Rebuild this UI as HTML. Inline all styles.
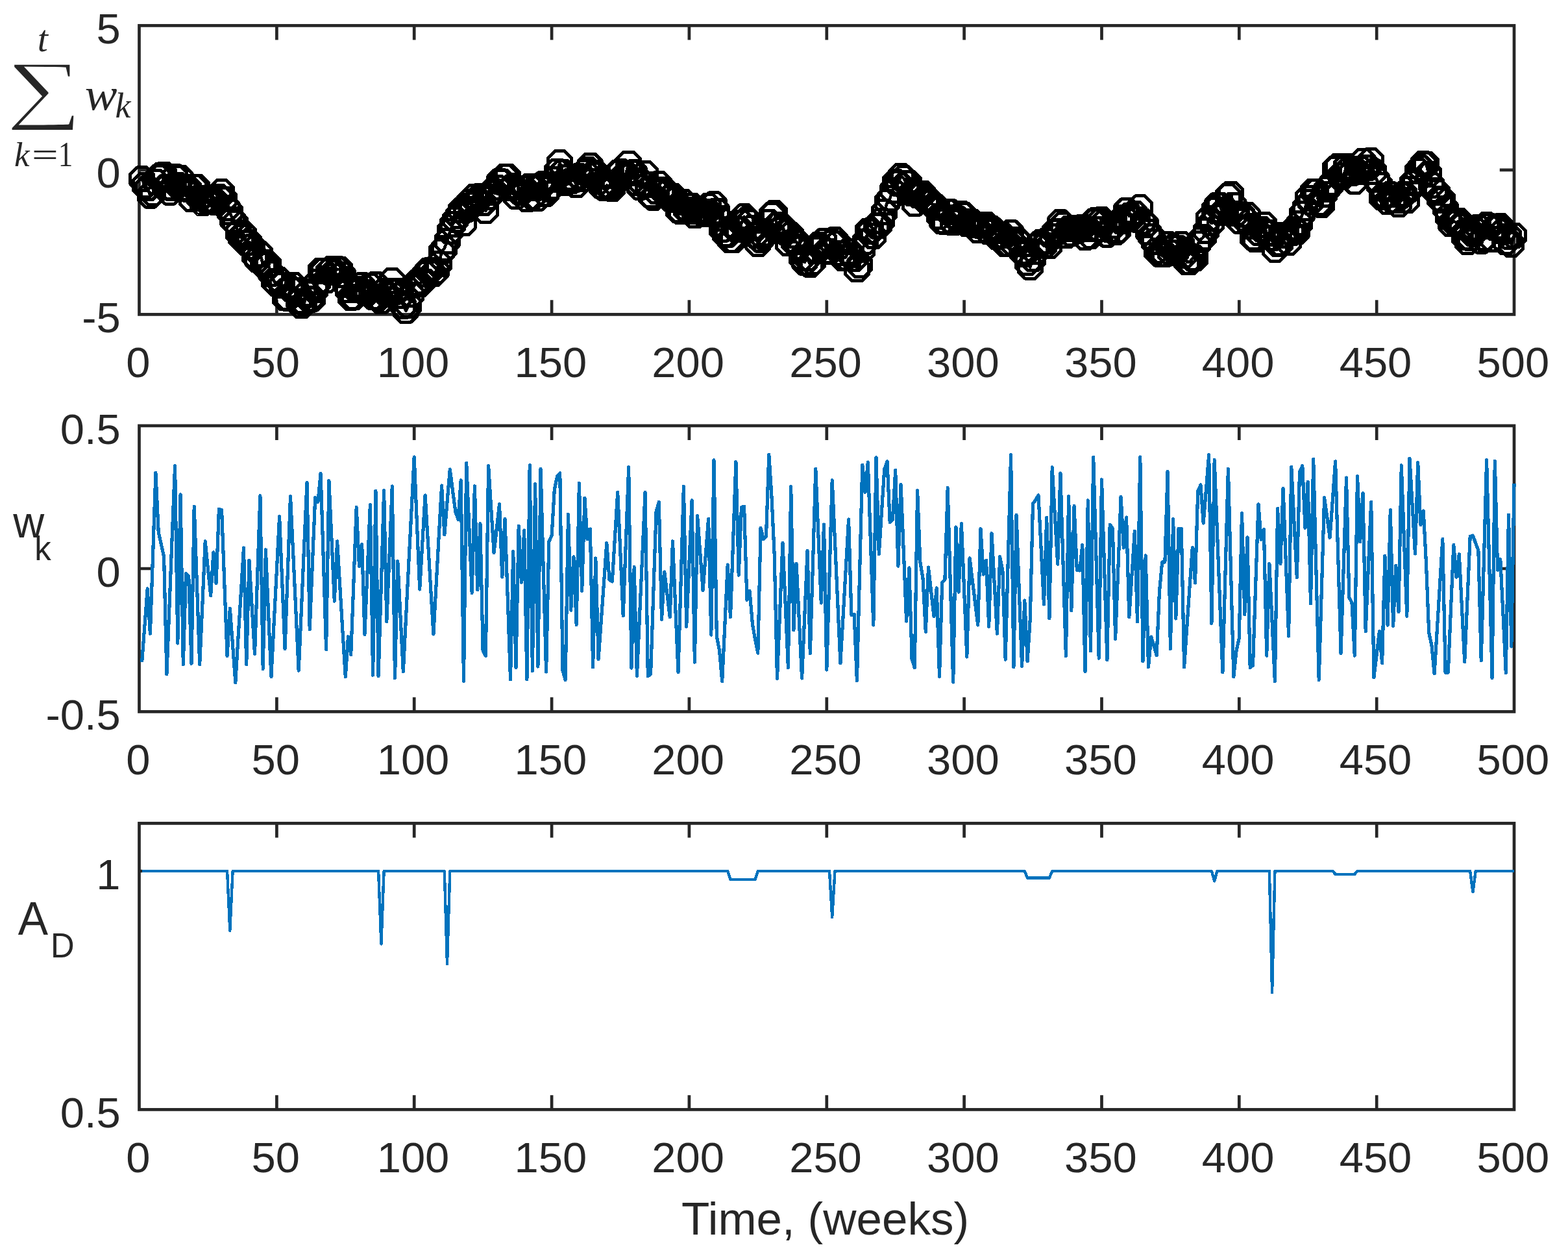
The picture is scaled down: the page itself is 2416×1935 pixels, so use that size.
<!DOCTYPE html>
<html lang="en">
<head>
<meta charset="utf-8">
<title>Figure</title>
<style>
html,body{margin:0;padding:0;background:#fff}
body{width:2416px;height:1935px;overflow:hidden}
svg{display:block}
.t{font-family:"Liberation Sans",sans-serif;font-size:65px;fill:#262626}
.l{font-family:"Liberation Sans",sans-serif;font-size:71px;fill:#262626}
.m{font-family:"Liberation Serif",serif;fill:#262626}
.ax{fill:none;stroke:#262626;stroke-width:4.7;stroke-linecap:butt;stroke-linejoin:miter}
.b{fill:none;stroke:#0072bd;stroke-width:5.2;stroke-linejoin:round;stroke-linecap:butt;shape-rendering:crispEdges}
.k{fill:none;stroke:#000;stroke-width:5;stroke-linejoin:round;shape-rendering:crispEdges}
</style>
</head>
<body>
<svg width="2416" height="1935" viewBox="0 0 2416 1935">
<rect x="0" y="0" width="2416" height="1935" fill="#fff"/>
<g>
<path class="ax" d="M426.4 484.4v-22.2M426.4 39.4v22.2M638.2 484.4v-22.2M638.2 39.4v22.2M850.1 484.4v-22.2M850.1 39.4v22.2M1061.9 484.4v-22.2M1061.9 39.4v22.2M1273.8 484.4v-22.2M1273.8 39.4v22.2M1485.6 484.4v-22.2M1485.6 39.4v22.2M1697.5 484.4v-22.2M1697.5 39.4v22.2M1909.3 484.4v-22.2M1909.3 39.4v22.2M2121.2 484.4v-22.2M2121.2 39.4v22.2M214.5 261.9h22.2M2333 261.9h-22.2"/>
<rect class="ax" x="214.5" y="39.4" width="2118.5" height="445"/>
<polyline fill="none" stroke="#000" stroke-width="4.7" stroke-linejoin="round" shape-rendering="crispEdges" points="218.7,275.9 223,285.8 227.2,289.9 231.4,301.1 235.7,297.1 239.9,280.6 244.2,273.3 248.4,270.3 252.6,269.2 256.9,288.1 261.1,296.1 265.3,289.7 269.6,272.5 273.8,285 278.1,274.3 282.3,289.4 286.5,290.3 290.8,291.7 295,306.7 299.2,288.6 303.5,288.7 307.7,305.4 312,312.6 316.2,307.7 320.4,307.1 324.7,310.7 328.9,308.7 333.1,311.5 337.4,303.5 341.6,295.7 345.8,307 350.1,320.6 354.3,326.8 358.6,338.7 362.8,343.8 367,358.2 371.3,365.7 375.5,360.7 379.7,374 384,373.1 388.2,380.2 392.5,394.5 396.7,399.9 400.9,391.5 405.2,407.1 409.4,404.1 413.6,408.2 417.9,421.2 422.1,433.2 426.4,436.6 430.6,431.7 434.8,439.9 439.1,458.4 443.3,459.1 447.5,444.8 451.8,439.5 456,447.2 460.2,464 464.5,470.9 468.7,466.7 473,452.7 477.2,461.5 481.4,460.1 485.7,446.9 489.9,434.3 494.1,417.3 498.4,417.6 502.6,431.7 506.9,418.5 511.1,414.7 515.3,419.5 519.6,414.8 523.8,415.2 528,423.2 532.3,438.1 536.5,446.9 540.7,458.4 545,457.8 549.2,446.9 553.5,445.1 557.7,439.9 561.9,450.2 566.2,450.5 570.4,440.5 574.6,457.2 578.9,438.3 583.1,458.3 587.4,463.8 591.6,448.6 595.8,453.8 600.1,448.5 604.3,432.6 608.5,449.5 612.8,448.1 617,455.4 621.3,471.2 625.5,478.7 629.7,470.6 634,454 638.2,439.6 642.4,435.4 646.7,437.7 650.9,433.2 655.1,422.2 659.4,417.3 663.6,416 667.9,421.9 672.1,417.9 676.3,406.7 680.6,387.8 684.8,382.4 689,371.9 693.3,356.4 697.5,345.9 701.8,338.7 706,332.7 710.2,324 714.5,343.8 718.7,322.5 722.9,311.3 727.2,315.7 731.4,303.4 735.7,308 739.9,302.2 744.1,313 748.4,324.7 752.6,303.5 756.8,296.8 761.1,294.8 765.3,289 769.5,279.4 773.8,280.5 778,272.5 782.3,272.6 786.5,289.8 790.7,286.9 795,302.3 799.2,295 803.4,296.6 807.7,290.1 811.9,306.9 816.2,287.4 820.4,303.3 824.6,290 828.9,305.1 833.1,286.5 837.3,283.6 841.6,298.2 845.8,291.5 850.1,287.6 854.3,276.9 858.5,264.1 862.8,250.8 867,265.7 871.2,282 875.5,273.1 879.7,279 883.9,276.6 888.2,284.9 892.4,271.9 896.7,275.8 900.9,265.2 905.1,261 909.4,255.3 913.6,269.4 917.8,266.6 922.1,279.6 926.3,286.5 930.6,289.2 934.8,285.7 939,287.9 943.3,290.4 947.5,281.8 951.7,266.4 956,264.3 960.2,271.8 964.4,267.7 968.7,252 972.9,266.7 977.2,265.7 981.4,281.7 985.6,288.1 989.9,282.4 994.1,267.2 998.3,284.1 1002.6,300.7 1006.8,304.2 1011.1,294.7 1015.3,283.7 1019.5,292.1 1023.8,293 1028,297.5 1032.2,305.6 1036.5,302.2 1040.7,307.7 1045,323.4 1049.2,325.6 1053.4,311.8 1057.7,323.5 1061.9,325.4 1066.1,317.4 1070.4,331.9 1074.6,325.2 1078.8,324.3 1083.1,329.1 1087.3,326.2 1091.6,317.7 1095.8,329.9 1100,314.8 1104.3,325.1 1108.5,336.8 1112.7,353.4 1117,361 1121.2,361.2 1125.5,369.7 1129.7,369.8 1133.9,352.9 1138.2,353.7 1142.4,343.9 1146.6,333.9 1150.9,338.9 1155.1,342.4 1159.4,351.1 1163.6,362.3 1167.8,375.5 1172.1,369.2 1176.3,364.7 1180.5,359.8 1184.8,342.1 1189,331 1193.2,328.6 1197.5,346.6 1201.7,354 1206,350.7 1210.2,357.9 1214.4,374.7 1218.7,362.2 1222.9,372.6 1227.1,372.7 1231.4,380.5 1235.6,397.3 1239.9,404.1 1244.1,397.8 1248.3,407.5 1252.6,403.1 1256.8,384.9 1261,377.2 1265.3,380.4 1269.5,371.4 1273.8,387 1278,387.9 1282.2,374 1286.5,369.5 1290.7,375 1294.9,390 1299.2,397.6 1303.4,396.1 1307.6,387.1 1311.9,393 1316.1,398.8 1320.4,415 1324.6,408.4 1328.8,384.9 1333.1,372.9 1337.3,356.2 1341.5,355.6 1345.8,363.9 1350,348.1 1354.3,347.4 1358.5,340.3 1362.7,326.7 1367,311.5 1371.2,305.9 1375.4,293.5 1379.7,280.4 1383.9,282.2 1388.1,271.3 1392.4,274.7 1396.6,282.7 1400.9,282.5 1405.1,297.5 1409.3,313.8 1413.6,300.5 1417.8,298.2 1422,298.5 1426.3,308.5 1430.5,308.4 1434.8,312.2 1439,318 1443.2,319.4 1447.5,333.4 1451.7,340.8 1455.9,341.7 1460.2,326.1 1464.4,326.9 1468.7,342.8 1472.9,335.3 1477.1,337.9 1481.4,329.8 1485.6,331.9 1489.8,344.6 1494.1,341.8 1498.3,342.5 1502.5,346.8 1506.8,354.5 1511,347.7 1515.3,348 1519.5,346.1 1523.7,357 1528,352.3 1532.2,355.4 1536.4,364.9 1540.7,362.4 1544.9,362.1 1549.2,375.6 1553.4,375.1 1557.6,358.6 1561.9,375.7 1566.1,369 1570.3,372.8 1574.6,387.7 1578.8,391.5 1583.1,404.8 1587.3,411.5 1591.5,398.8 1595.8,388 1600,376.4 1604.2,373.4 1608.5,379 1612.7,371.1 1616.9,378.9 1621.2,364.2 1625.4,357 1629.7,356.9 1633.9,342.8 1638.1,346.2 1642.4,362.9 1646.6,352.5 1650.8,359.9 1655.1,351 1659.3,352.1 1663.6,353.2 1667.8,350.4 1672,366 1676.3,353 1680.5,363.5 1684.7,341.6 1689,339.4 1693.2,353 1697.5,338.7 1701.7,342.8 1705.9,361.1 1710.2,353.8 1714.4,347.2 1718.6,357.8 1722.9,354.6 1727.1,340.8 1731.3,335 1735.6,324.4 1739.8,332.7 1744.1,334.2 1748.3,329.1 1752.5,338.1 1756.8,319.9 1761,341.3 1765.2,346.2 1769.5,357.6 1773.7,364.2 1778,372.3 1782.2,386.7 1786.4,391.2 1790.7,391.7 1794.9,391.3 1799.1,376.8 1803.4,389.3 1807.6,381.5 1811.8,389.1 1816.1,382.8 1820.3,376.4 1824.6,393.2 1828.8,403.8 1833,403.8 1837.3,398.1 1841.5,397.8 1845.7,375.8 1850,369.3 1854.2,365.2 1858.5,355.9 1862.7,336.8 1866.9,344 1871.2,323.8 1875.4,316.6 1879.6,316.7 1883.9,327.8 1888.1,323 1892.4,302.4 1896.6,299 1900.8,316.1 1905.1,329 1909.3,340.1 1913.5,330.6 1917.8,337 1922,331.3 1926.2,348.8 1930.5,366 1934.7,368.9 1939,358.2 1943.2,353 1947.4,346.1 1951.7,359.6 1955.9,358.7 1960.1,366.9 1964.4,384.3 1968.6,375.4 1972.9,375 1977.1,362.9 1981.3,362.3 1985.6,373.3 1989.8,359 1994,353.3 1998.3,356.9 2002.5,344 2006.8,329.4 2011,320.9 2015.2,305.3 2019.5,311.4 2023.7,295 2027.9,295.1 2032.2,312.4 2036.4,315.6 2040.6,299.3 2044.9,291.5 2049.1,286.8 2053.4,281.1 2057.6,260.3 2061.8,256.8 2066.1,270.4 2070.3,270.4 2074.5,256.7 2078.8,261 2083,266.1 2087.3,279.4 2091.5,264.8 2095.7,260.5 2100,248.5 2104.2,258.4 2108.4,258.2 2112.7,247.8 2116.9,264.9 2121.2,276.8 2125.4,285.1 2129.6,304 2133.9,301.9 2138.1,310.6 2142.3,299.9 2146.6,308.8 2150.8,308.3 2155,315 2159.3,301.1 2163.5,299 2167.8,308.7 2172,291.6 2176.2,282 2180.5,279.8 2184.7,263.4 2188.9,258.9 2193.2,252.3 2197.4,253 2201.7,268.1 2205.9,285.1 2210.1,293 2214.4,296.8 2218.6,306 2222.8,308.2 2227.1,321.1 2231.3,334.1 2235.5,344.8 2239.8,341.2 2244,342.6 2248.3,340.4 2252.5,348.9 2256.7,365.7 2261,372.8 2265.2,366.5 2269.4,360 2273.7,354.7 2277.9,350.5 2282.2,371.1 2286.4,366.7 2290.6,346.7 2294.9,348.9 2299.1,368.1 2303.3,350.9 2307.6,350.7 2311.8,348.9 2316.1,356.3 2320.3,372.6 2324.5,364.2 2328.8,376.3 2333,363"/>
<path class="k" d="M211.3 257.9h14.9l10.5 10.5v14.9l-10.5 10.5h-14.9l-10.5 -10.5v-14.9zM215.5 267.8h14.9l10.5 10.5v14.9l-10.5 10.5h-14.9l-10.5 -10.5v-14.9zM219.8 271.9h14.9l10.5 10.5v14.9l-10.5 10.5h-14.9l-10.5 -10.5v-14.9zM224 283.1h14.9l10.5 10.5v14.9l-10.5 10.5h-14.9l-10.5 -10.5v-14.9zM228.2 279.1h14.9l10.5 10.5v14.9l-10.5 10.5h-14.9l-10.5 -10.5v-14.9zM232.5 262.6h14.9l10.5 10.5v14.9l-10.5 10.5h-14.9l-10.5 -10.5v-14.9zM236.7 255.3h14.9l10.5 10.5v14.9l-10.5 10.5h-14.9l-10.5 -10.5v-14.9zM240.9 252.3h14.9l10.5 10.5v14.9l-10.5 10.5h-14.9l-10.5 -10.5v-14.9zM245.2 251.2h14.9l10.5 10.5v14.9l-10.5 10.5h-14.9l-10.5 -10.5v-14.9zM249.4 270.1h14.9l10.5 10.5v14.9l-10.5 10.5h-14.9l-10.5 -10.5v-14.9zM253.7 278.1h14.9l10.5 10.5v14.9l-10.5 10.5h-14.9l-10.5 -10.5v-14.9zM257.9 271.7h14.9l10.5 10.5v14.9l-10.5 10.5h-14.9l-10.5 -10.5v-14.9zM262.1 254.5h14.9l10.5 10.5v14.9l-10.5 10.5h-14.9l-10.5 -10.5v-14.9zM266.4 267h14.9l10.5 10.5v14.9l-10.5 10.5h-14.9l-10.5 -10.5v-14.9zM270.6 256.3h14.9l10.5 10.5v14.9l-10.5 10.5h-14.9l-10.5 -10.5v-14.9zM274.8 271.4h14.9l10.5 10.5v14.9l-10.5 10.5h-14.9l-10.5 -10.5v-14.9zM279.1 272.3h14.9l10.5 10.5v14.9l-10.5 10.5h-14.9l-10.5 -10.5v-14.9zM283.3 273.7h14.9l10.5 10.5v14.9l-10.5 10.5h-14.9l-10.5 -10.5v-14.9zM287.5 288.7h14.9l10.5 10.5v14.9l-10.5 10.5h-14.9l-10.5 -10.5v-14.9zM291.8 270.6h14.9l10.5 10.5v14.9l-10.5 10.5h-14.9l-10.5 -10.5v-14.9zM296 270.7h14.9l10.5 10.5v14.9l-10.5 10.5h-14.9l-10.5 -10.5v-14.9zM300.3 287.4h14.9l10.5 10.5v14.9l-10.5 10.5h-14.9l-10.5 -10.5v-14.9zM304.5 294.6h14.9l10.5 10.5v14.9l-10.5 10.5h-14.9l-10.5 -10.5v-14.9zM308.7 289.7h14.9l10.5 10.5v14.9l-10.5 10.5h-14.9l-10.5 -10.5v-14.9zM313 289.1h14.9l10.5 10.5v14.9l-10.5 10.5h-14.9l-10.5 -10.5v-14.9zM317.2 292.7h14.9l10.5 10.5v14.9l-10.5 10.5h-14.9l-10.5 -10.5v-14.9zM321.4 290.7h14.9l10.5 10.5v14.9l-10.5 10.5h-14.9l-10.5 -10.5v-14.9zM325.7 293.5h14.9l10.5 10.5v14.9l-10.5 10.5h-14.9l-10.5 -10.5v-14.9zM329.9 285.5h14.9l10.5 10.5v14.9l-10.5 10.5h-14.9l-10.5 -10.5v-14.9zM334.2 277.7h14.9l10.5 10.5v14.9l-10.5 10.5h-14.9l-10.5 -10.5v-14.9zM338.4 289h14.9l10.5 10.5v14.9l-10.5 10.5h-14.9l-10.5 -10.5v-14.9zM342.6 302.6h14.9l10.5 10.5v14.9l-10.5 10.5h-14.9l-10.5 -10.5v-14.9zM346.9 308.8h14.9l10.5 10.5v14.9l-10.5 10.5h-14.9l-10.5 -10.5v-14.9zM351.1 320.7h14.9l10.5 10.5v14.9l-10.5 10.5h-14.9l-10.5 -10.5v-14.9zM355.3 325.8h14.9l10.5 10.5v14.9l-10.5 10.5h-14.9l-10.5 -10.5v-14.9zM359.6 340.2h14.9l10.5 10.5v14.9l-10.5 10.5h-14.9l-10.5 -10.5v-14.9zM363.8 347.7h14.9l10.5 10.5v14.9l-10.5 10.5h-14.9l-10.5 -10.5v-14.9zM368.1 342.7h14.9l10.5 10.5v14.9l-10.5 10.5h-14.9l-10.5 -10.5v-14.9zM372.3 356h14.9l10.5 10.5v14.9l-10.5 10.5h-14.9l-10.5 -10.5v-14.9zM376.5 355.1h14.9l10.5 10.5v14.9l-10.5 10.5h-14.9l-10.5 -10.5v-14.9zM380.8 362.2h14.9l10.5 10.5v14.9l-10.5 10.5h-14.9l-10.5 -10.5v-14.9zM385 376.5h14.9l10.5 10.5v14.9l-10.5 10.5h-14.9l-10.5 -10.5v-14.9zM389.2 381.9h14.9l10.5 10.5v14.9l-10.5 10.5h-14.9l-10.5 -10.5v-14.9zM393.5 373.5h14.9l10.5 10.5v14.9l-10.5 10.5h-14.9l-10.5 -10.5v-14.9zM397.7 389.1h14.9l10.5 10.5v14.9l-10.5 10.5h-14.9l-10.5 -10.5v-14.9zM401.9 386.1h14.9l10.5 10.5v14.9l-10.5 10.5h-14.9l-10.5 -10.5v-14.9zM406.2 390.2h14.9l10.5 10.5v14.9l-10.5 10.5h-14.9l-10.5 -10.5v-14.9zM410.4 403.2h14.9l10.5 10.5v14.9l-10.5 10.5h-14.9l-10.5 -10.5v-14.9zM414.7 415.2h14.9l10.5 10.5v14.9l-10.5 10.5h-14.9l-10.5 -10.5v-14.9zM418.9 418.6h14.9l10.5 10.5v14.9l-10.5 10.5h-14.9l-10.5 -10.5v-14.9zM423.1 413.7h14.9l10.5 10.5v14.9l-10.5 10.5h-14.9l-10.5 -10.5v-14.9zM427.4 421.9h14.9l10.5 10.5v14.9l-10.5 10.5h-14.9l-10.5 -10.5v-14.9zM431.6 440.4h14.9l10.5 10.5v14.9l-10.5 10.5h-14.9l-10.5 -10.5v-14.9zM435.8 441.1h14.9l10.5 10.5v14.9l-10.5 10.5h-14.9l-10.5 -10.5v-14.9zM440.1 426.8h14.9l10.5 10.5v14.9l-10.5 10.5h-14.9l-10.5 -10.5v-14.9zM444.3 421.5h14.9l10.5 10.5v14.9l-10.5 10.5h-14.9l-10.5 -10.5v-14.9zM448.6 429.2h14.9l10.5 10.5v14.9l-10.5 10.5h-14.9l-10.5 -10.5v-14.9zM452.8 446h14.9l10.5 10.5v14.9l-10.5 10.5h-14.9l-10.5 -10.5v-14.9zM457 452.9h14.9l10.5 10.5v14.9l-10.5 10.5h-14.9l-10.5 -10.5v-14.9zM461.3 448.7h14.9l10.5 10.5v14.9l-10.5 10.5h-14.9l-10.5 -10.5v-14.9zM465.5 434.7h14.9l10.5 10.5v14.9l-10.5 10.5h-14.9l-10.5 -10.5v-14.9zM469.7 443.5h14.9l10.5 10.5v14.9l-10.5 10.5h-14.9l-10.5 -10.5v-14.9zM474 442.1h14.9l10.5 10.5v14.9l-10.5 10.5h-14.9l-10.5 -10.5v-14.9zM478.2 428.9h14.9l10.5 10.5v14.9l-10.5 10.5h-14.9l-10.5 -10.5v-14.9zM482.4 416.3h14.9l10.5 10.5v14.9l-10.5 10.5h-14.9l-10.5 -10.5v-14.9zM486.7 399.3h14.9l10.5 10.5v14.9l-10.5 10.5h-14.9l-10.5 -10.5v-14.9zM490.9 399.6h14.9l10.5 10.5v14.9l-10.5 10.5h-14.9l-10.5 -10.5v-14.9zM495.2 413.7h14.9l10.5 10.5v14.9l-10.5 10.5h-14.9l-10.5 -10.5v-14.9zM499.4 400.5h14.9l10.5 10.5v14.9l-10.5 10.5h-14.9l-10.5 -10.5v-14.9zM503.6 396.7h14.9l10.5 10.5v14.9l-10.5 10.5h-14.9l-10.5 -10.5v-14.9zM507.9 401.5h14.9l10.5 10.5v14.9l-10.5 10.5h-14.9l-10.5 -10.5v-14.9zM512.1 396.8h14.9l10.5 10.5v14.9l-10.5 10.5h-14.9l-10.5 -10.5v-14.9zM516.3 397.2h14.9l10.5 10.5v14.9l-10.5 10.5h-14.9l-10.5 -10.5v-14.9zM520.6 405.2h14.9l10.5 10.5v14.9l-10.5 10.5h-14.9l-10.5 -10.5v-14.9zM524.8 420.1h14.9l10.5 10.5v14.9l-10.5 10.5h-14.9l-10.5 -10.5v-14.9zM529.1 428.9h14.9l10.5 10.5v14.9l-10.5 10.5h-14.9l-10.5 -10.5v-14.9zM533.3 440.4h14.9l10.5 10.5v14.9l-10.5 10.5h-14.9l-10.5 -10.5v-14.9zM537.5 439.8h14.9l10.5 10.5v14.9l-10.5 10.5h-14.9l-10.5 -10.5v-14.9zM541.8 428.9h14.9l10.5 10.5v14.9l-10.5 10.5h-14.9l-10.5 -10.5v-14.9zM546 427.1h14.9l10.5 10.5v14.9l-10.5 10.5h-14.9l-10.5 -10.5v-14.9zM550.2 421.9h14.9l10.5 10.5v14.9l-10.5 10.5h-14.9l-10.5 -10.5v-14.9zM554.5 432.2h14.9l10.5 10.5v14.9l-10.5 10.5h-14.9l-10.5 -10.5v-14.9zM558.7 432.5h14.9l10.5 10.5v14.9l-10.5 10.5h-14.9l-10.5 -10.5v-14.9zM563 422.5h14.9l10.5 10.5v14.9l-10.5 10.5h-14.9l-10.5 -10.5v-14.9zM567.2 439.2h14.9l10.5 10.5v14.9l-10.5 10.5h-14.9l-10.5 -10.5v-14.9zM571.4 420.3h14.9l10.5 10.5v14.9l-10.5 10.5h-14.9l-10.5 -10.5v-14.9zM575.7 440.3h14.9l10.5 10.5v14.9l-10.5 10.5h-14.9l-10.5 -10.5v-14.9zM579.9 445.8h14.9l10.5 10.5v14.9l-10.5 10.5h-14.9l-10.5 -10.5v-14.9zM584.1 430.6h14.9l10.5 10.5v14.9l-10.5 10.5h-14.9l-10.5 -10.5v-14.9zM588.4 435.8h14.9l10.5 10.5v14.9l-10.5 10.5h-14.9l-10.5 -10.5v-14.9zM592.6 430.5h14.9l10.5 10.5v14.9l-10.5 10.5h-14.9l-10.5 -10.5v-14.9zM596.8 414.6h14.9l10.5 10.5v14.9l-10.5 10.5h-14.9l-10.5 -10.5v-14.9zM601.1 431.5h14.9l10.5 10.5v14.9l-10.5 10.5h-14.9l-10.5 -10.5v-14.9zM605.3 430.1h14.9l10.5 10.5v14.9l-10.5 10.5h-14.9l-10.5 -10.5v-14.9zM609.6 437.4h14.9l10.5 10.5v14.9l-10.5 10.5h-14.9l-10.5 -10.5v-14.9zM613.8 453.2h14.9l10.5 10.5v14.9l-10.5 10.5h-14.9l-10.5 -10.5v-14.9zM618 460.7h14.9l10.5 10.5v14.9l-10.5 10.5h-14.9l-10.5 -10.5v-14.9zM622.3 452.6h14.9l10.5 10.5v14.9l-10.5 10.5h-14.9l-10.5 -10.5v-14.9zM626.5 436h14.9l10.5 10.5v14.9l-10.5 10.5h-14.9l-10.5 -10.5v-14.9zM630.7 421.6h14.9l10.5 10.5v14.9l-10.5 10.5h-14.9l-10.5 -10.5v-14.9zM635 417.4h14.9l10.5 10.5v14.9l-10.5 10.5h-14.9l-10.5 -10.5v-14.9zM639.2 419.7h14.9l10.5 10.5v14.9l-10.5 10.5h-14.9l-10.5 -10.5v-14.9zM643.5 415.2h14.9l10.5 10.5v14.9l-10.5 10.5h-14.9l-10.5 -10.5v-14.9zM647.7 404.2h14.9l10.5 10.5v14.9l-10.5 10.5h-14.9l-10.5 -10.5v-14.9zM651.9 399.3h14.9l10.5 10.5v14.9l-10.5 10.5h-14.9l-10.5 -10.5v-14.9zM656.2 398h14.9l10.5 10.5v14.9l-10.5 10.5h-14.9l-10.5 -10.5v-14.9zM660.4 403.9h14.9l10.5 10.5v14.9l-10.5 10.5h-14.9l-10.5 -10.5v-14.9zM664.6 399.9h14.9l10.5 10.5v14.9l-10.5 10.5h-14.9l-10.5 -10.5v-14.9zM668.9 388.7h14.9l10.5 10.5v14.9l-10.5 10.5h-14.9l-10.5 -10.5v-14.9zM673.1 369.8h14.9l10.5 10.5v14.9l-10.5 10.5h-14.9l-10.5 -10.5v-14.9zM677.4 364.4h14.9l10.5 10.5v14.9l-10.5 10.5h-14.9l-10.5 -10.5v-14.9zM681.6 353.9h14.9l10.5 10.5v14.9l-10.5 10.5h-14.9l-10.5 -10.5v-14.9zM685.8 338.4h14.9l10.5 10.5v14.9l-10.5 10.5h-14.9l-10.5 -10.5v-14.9zM690.1 327.9h14.9l10.5 10.5v14.9l-10.5 10.5h-14.9l-10.5 -10.5v-14.9zM694.3 320.7h14.9l10.5 10.5v14.9l-10.5 10.5h-14.9l-10.5 -10.5v-14.9zM698.5 314.7h14.9l10.5 10.5v14.9l-10.5 10.5h-14.9l-10.5 -10.5v-14.9zM702.8 306h14.9l10.5 10.5v14.9l-10.5 10.5h-14.9l-10.5 -10.5v-14.9zM707 325.8h14.9l10.5 10.5v14.9l-10.5 10.5h-14.9l-10.5 -10.5v-14.9zM711.2 304.5h14.9l10.5 10.5v14.9l-10.5 10.5h-14.9l-10.5 -10.5v-14.9zM715.5 293.3h14.9l10.5 10.5v14.9l-10.5 10.5h-14.9l-10.5 -10.5v-14.9zM719.7 297.7h14.9l10.5 10.5v14.9l-10.5 10.5h-14.9l-10.5 -10.5v-14.9zM724 285.4h14.9l10.5 10.5v14.9l-10.5 10.5h-14.9l-10.5 -10.5v-14.9zM728.2 290h14.9l10.5 10.5v14.9l-10.5 10.5h-14.9l-10.5 -10.5v-14.9zM732.4 284.2h14.9l10.5 10.5v14.9l-10.5 10.5h-14.9l-10.5 -10.5v-14.9zM736.7 295h14.9l10.5 10.5v14.9l-10.5 10.5h-14.9l-10.5 -10.5v-14.9zM740.9 306.7h14.9l10.5 10.5v14.9l-10.5 10.5h-14.9l-10.5 -10.5v-14.9zM745.1 285.5h14.9l10.5 10.5v14.9l-10.5 10.5h-14.9l-10.5 -10.5v-14.9zM749.4 278.8h14.9l10.5 10.5v14.9l-10.5 10.5h-14.9l-10.5 -10.5v-14.9zM753.6 276.8h14.9l10.5 10.5v14.9l-10.5 10.5h-14.9l-10.5 -10.5v-14.9zM757.9 271h14.9l10.5 10.5v14.9l-10.5 10.5h-14.9l-10.5 -10.5v-14.9zM762.1 261.4h14.9l10.5 10.5v14.9l-10.5 10.5h-14.9l-10.5 -10.5v-14.9zM766.3 262.5h14.9l10.5 10.5v14.9l-10.5 10.5h-14.9l-10.5 -10.5v-14.9zM770.6 254.5h14.9l10.5 10.5v14.9l-10.5 10.5h-14.9l-10.5 -10.5v-14.9zM774.8 254.6h14.9l10.5 10.5v14.9l-10.5 10.5h-14.9l-10.5 -10.5v-14.9zM779 271.8h14.9l10.5 10.5v14.9l-10.5 10.5h-14.9l-10.5 -10.5v-14.9zM783.3 268.9h14.9l10.5 10.5v14.9l-10.5 10.5h-14.9l-10.5 -10.5v-14.9zM787.5 284.3h14.9l10.5 10.5v14.9l-10.5 10.5h-14.9l-10.5 -10.5v-14.9zM791.8 277h14.9l10.5 10.5v14.9l-10.5 10.5h-14.9l-10.5 -10.5v-14.9zM796 278.6h14.9l10.5 10.5v14.9l-10.5 10.5h-14.9l-10.5 -10.5v-14.9zM800.2 272.1h14.9l10.5 10.5v14.9l-10.5 10.5h-14.9l-10.5 -10.5v-14.9zM804.5 288.9h14.9l10.5 10.5v14.9l-10.5 10.5h-14.9l-10.5 -10.5v-14.9zM808.7 269.4h14.9l10.5 10.5v14.9l-10.5 10.5h-14.9l-10.5 -10.5v-14.9zM812.9 285.3h14.9l10.5 10.5v14.9l-10.5 10.5h-14.9l-10.5 -10.5v-14.9zM817.2 272h14.9l10.5 10.5v14.9l-10.5 10.5h-14.9l-10.5 -10.5v-14.9zM821.4 287.1h14.9l10.5 10.5v14.9l-10.5 10.5h-14.9l-10.5 -10.5v-14.9zM825.6 268.5h14.9l10.5 10.5v14.9l-10.5 10.5h-14.9l-10.5 -10.5v-14.9zM829.9 265.6h14.9l10.5 10.5v14.9l-10.5 10.5h-14.9l-10.5 -10.5v-14.9zM834.1 280.2h14.9l10.5 10.5v14.9l-10.5 10.5h-14.9l-10.5 -10.5v-14.9zM838.4 273.5h14.9l10.5 10.5v14.9l-10.5 10.5h-14.9l-10.5 -10.5v-14.9zM842.6 269.6h14.9l10.5 10.5v14.9l-10.5 10.5h-14.9l-10.5 -10.5v-14.9zM846.8 258.9h14.9l10.5 10.5v14.9l-10.5 10.5h-14.9l-10.5 -10.5v-14.9zM851.1 246.1h14.9l10.5 10.5v14.9l-10.5 10.5h-14.9l-10.5 -10.5v-14.9zM855.3 232.8h14.9l10.5 10.5v14.9l-10.5 10.5h-14.9l-10.5 -10.5v-14.9zM859.5 247.7h14.9l10.5 10.5v14.9l-10.5 10.5h-14.9l-10.5 -10.5v-14.9zM863.8 264h14.9l10.5 10.5v14.9l-10.5 10.5h-14.9l-10.5 -10.5v-14.9zM868 255.1h14.9l10.5 10.5v14.9l-10.5 10.5h-14.9l-10.5 -10.5v-14.9zM872.3 261h14.9l10.5 10.5v14.9l-10.5 10.5h-14.9l-10.5 -10.5v-14.9zM876.5 258.6h14.9l10.5 10.5v14.9l-10.5 10.5h-14.9l-10.5 -10.5v-14.9zM880.7 266.9h14.9l10.5 10.5v14.9l-10.5 10.5h-14.9l-10.5 -10.5v-14.9zM885 253.9h14.9l10.5 10.5v14.9l-10.5 10.5h-14.9l-10.5 -10.5v-14.9zM889.2 257.8h14.9l10.5 10.5v14.9l-10.5 10.5h-14.9l-10.5 -10.5v-14.9zM893.4 247.2h14.9l10.5 10.5v14.9l-10.5 10.5h-14.9l-10.5 -10.5v-14.9zM897.7 243h14.9l10.5 10.5v14.9l-10.5 10.5h-14.9l-10.5 -10.5v-14.9zM901.9 237.3h14.9l10.5 10.5v14.9l-10.5 10.5h-14.9l-10.5 -10.5v-14.9zM906.1 251.4h14.9l10.5 10.5v14.9l-10.5 10.5h-14.9l-10.5 -10.5v-14.9zM910.4 248.6h14.9l10.5 10.5v14.9l-10.5 10.5h-14.9l-10.5 -10.5v-14.9zM914.6 261.6h14.9l10.5 10.5v14.9l-10.5 10.5h-14.9l-10.5 -10.5v-14.9zM918.9 268.5h14.9l10.5 10.5v14.9l-10.5 10.5h-14.9l-10.5 -10.5v-14.9zM923.1 271.2h14.9l10.5 10.5v14.9l-10.5 10.5h-14.9l-10.5 -10.5v-14.9zM927.3 267.7h14.9l10.5 10.5v14.9l-10.5 10.5h-14.9l-10.5 -10.5v-14.9zM931.6 269.9h14.9l10.5 10.5v14.9l-10.5 10.5h-14.9l-10.5 -10.5v-14.9zM935.8 272.4h14.9l10.5 10.5v14.9l-10.5 10.5h-14.9l-10.5 -10.5v-14.9zM940 263.8h14.9l10.5 10.5v14.9l-10.5 10.5h-14.9l-10.5 -10.5v-14.9zM944.3 248.4h14.9l10.5 10.5v14.9l-10.5 10.5h-14.9l-10.5 -10.5v-14.9zM948.5 246.3h14.9l10.5 10.5v14.9l-10.5 10.5h-14.9l-10.5 -10.5v-14.9zM952.8 253.8h14.9l10.5 10.5v14.9l-10.5 10.5h-14.9l-10.5 -10.5v-14.9zM957 249.7h14.9l10.5 10.5v14.9l-10.5 10.5h-14.9l-10.5 -10.5v-14.9zM961.2 234h14.9l10.5 10.5v14.9l-10.5 10.5h-14.9l-10.5 -10.5v-14.9zM965.5 248.7h14.9l10.5 10.5v14.9l-10.5 10.5h-14.9l-10.5 -10.5v-14.9zM969.7 247.7h14.9l10.5 10.5v14.9l-10.5 10.5h-14.9l-10.5 -10.5v-14.9zM973.9 263.7h14.9l10.5 10.5v14.9l-10.5 10.5h-14.9l-10.5 -10.5v-14.9zM978.2 270.1h14.9l10.5 10.5v14.9l-10.5 10.5h-14.9l-10.5 -10.5v-14.9zM982.4 264.4h14.9l10.5 10.5v14.9l-10.5 10.5h-14.9l-10.5 -10.5v-14.9zM986.7 249.2h14.9l10.5 10.5v14.9l-10.5 10.5h-14.9l-10.5 -10.5v-14.9zM990.9 266.1h14.9l10.5 10.5v14.9l-10.5 10.5h-14.9l-10.5 -10.5v-14.9zM995.1 282.7h14.9l10.5 10.5v14.9l-10.5 10.5h-14.9l-10.5 -10.5v-14.9zM999.4 286.2h14.9l10.5 10.5v14.9l-10.5 10.5h-14.9l-10.5 -10.5v-14.9zM1003.6 276.7h14.9l10.5 10.5v14.9l-10.5 10.5h-14.9l-10.5 -10.5v-14.9zM1007.8 265.7h14.9l10.5 10.5v14.9l-10.5 10.5h-14.9l-10.5 -10.5v-14.9zM1012.1 274.1h14.9l10.5 10.5v14.9l-10.5 10.5h-14.9l-10.5 -10.5v-14.9zM1016.3 275h14.9l10.5 10.5v14.9l-10.5 10.5h-14.9l-10.5 -10.5v-14.9zM1020.5 279.5h14.9l10.5 10.5v14.9l-10.5 10.5h-14.9l-10.5 -10.5v-14.9zM1024.8 287.6h14.9l10.5 10.5v14.9l-10.5 10.5h-14.9l-10.5 -10.5v-14.9zM1029 284.2h14.9l10.5 10.5v14.9l-10.5 10.5h-14.9l-10.5 -10.5v-14.9zM1033.3 289.7h14.9l10.5 10.5v14.9l-10.5 10.5h-14.9l-10.5 -10.5v-14.9zM1037.5 305.4h14.9l10.5 10.5v14.9l-10.5 10.5h-14.9l-10.5 -10.5v-14.9zM1041.7 307.6h14.9l10.5 10.5v14.9l-10.5 10.5h-14.9l-10.5 -10.5v-14.9zM1046 293.8h14.9l10.5 10.5v14.9l-10.5 10.5h-14.9l-10.5 -10.5v-14.9zM1050.2 305.5h14.9l10.5 10.5v14.9l-10.5 10.5h-14.9l-10.5 -10.5v-14.9zM1054.4 307.4h14.9l10.5 10.5v14.9l-10.5 10.5h-14.9l-10.5 -10.5v-14.9zM1058.7 299.4h14.9l10.5 10.5v14.9l-10.5 10.5h-14.9l-10.5 -10.5v-14.9zM1062.9 313.9h14.9l10.5 10.5v14.9l-10.5 10.5h-14.9l-10.5 -10.5v-14.9zM1067.2 307.2h14.9l10.5 10.5v14.9l-10.5 10.5h-14.9l-10.5 -10.5v-14.9zM1071.4 306.3h14.9l10.5 10.5v14.9l-10.5 10.5h-14.9l-10.5 -10.5v-14.9zM1075.6 311.1h14.9l10.5 10.5v14.9l-10.5 10.5h-14.9l-10.5 -10.5v-14.9zM1079.9 308.2h14.9l10.5 10.5v14.9l-10.5 10.5h-14.9l-10.5 -10.5v-14.9zM1084.1 299.7h14.9l10.5 10.5v14.9l-10.5 10.5h-14.9l-10.5 -10.5v-14.9zM1088.3 311.9h14.9l10.5 10.5v14.9l-10.5 10.5h-14.9l-10.5 -10.5v-14.9zM1092.6 296.8h14.9l10.5 10.5v14.9l-10.5 10.5h-14.9l-10.5 -10.5v-14.9zM1096.8 307.1h14.9l10.5 10.5v14.9l-10.5 10.5h-14.9l-10.5 -10.5v-14.9zM1101.1 318.8h14.9l10.5 10.5v14.9l-10.5 10.5h-14.9l-10.5 -10.5v-14.9zM1105.3 335.4h14.9l10.5 10.5v14.9l-10.5 10.5h-14.9l-10.5 -10.5v-14.9zM1109.5 343h14.9l10.5 10.5v14.9l-10.5 10.5h-14.9l-10.5 -10.5v-14.9zM1113.8 343.2h14.9l10.5 10.5v14.9l-10.5 10.5h-14.9l-10.5 -10.5v-14.9zM1118 351.7h14.9l10.5 10.5v14.9l-10.5 10.5h-14.9l-10.5 -10.5v-14.9zM1122.2 351.8h14.9l10.5 10.5v14.9l-10.5 10.5h-14.9l-10.5 -10.5v-14.9zM1126.5 334.9h14.9l10.5 10.5v14.9l-10.5 10.5h-14.9l-10.5 -10.5v-14.9zM1130.7 335.7h14.9l10.5 10.5v14.9l-10.5 10.5h-14.9l-10.5 -10.5v-14.9zM1134.9 325.9h14.9l10.5 10.5v14.9l-10.5 10.5h-14.9l-10.5 -10.5v-14.9zM1139.2 315.9h14.9l10.5 10.5v14.9l-10.5 10.5h-14.9l-10.5 -10.5v-14.9zM1143.4 320.9h14.9l10.5 10.5v14.9l-10.5 10.5h-14.9l-10.5 -10.5v-14.9zM1147.7 324.4h14.9l10.5 10.5v14.9l-10.5 10.5h-14.9l-10.5 -10.5v-14.9zM1151.9 333.1h14.9l10.5 10.5v14.9l-10.5 10.5h-14.9l-10.5 -10.5v-14.9zM1156.1 344.3h14.9l10.5 10.5v14.9l-10.5 10.5h-14.9l-10.5 -10.5v-14.9zM1160.4 357.5h14.9l10.5 10.5v14.9l-10.5 10.5h-14.9l-10.5 -10.5v-14.9zM1164.6 351.2h14.9l10.5 10.5v14.9l-10.5 10.5h-14.9l-10.5 -10.5v-14.9zM1168.8 346.7h14.9l10.5 10.5v14.9l-10.5 10.5h-14.9l-10.5 -10.5v-14.9zM1173.1 341.8h14.9l10.5 10.5v14.9l-10.5 10.5h-14.9l-10.5 -10.5v-14.9zM1177.3 324.1h14.9l10.5 10.5v14.9l-10.5 10.5h-14.9l-10.5 -10.5v-14.9zM1181.6 313h14.9l10.5 10.5v14.9l-10.5 10.5h-14.9l-10.5 -10.5v-14.9zM1185.8 310.6h14.9l10.5 10.5v14.9l-10.5 10.5h-14.9l-10.5 -10.5v-14.9zM1190 328.6h14.9l10.5 10.5v14.9l-10.5 10.5h-14.9l-10.5 -10.5v-14.9zM1194.3 336h14.9l10.5 10.5v14.9l-10.5 10.5h-14.9l-10.5 -10.5v-14.9zM1198.5 332.7h14.9l10.5 10.5v14.9l-10.5 10.5h-14.9l-10.5 -10.5v-14.9zM1202.7 339.9h14.9l10.5 10.5v14.9l-10.5 10.5h-14.9l-10.5 -10.5v-14.9zM1207 356.7h14.9l10.5 10.5v14.9l-10.5 10.5h-14.9l-10.5 -10.5v-14.9zM1211.2 344.2h14.9l10.5 10.5v14.9l-10.5 10.5h-14.9l-10.5 -10.5v-14.9zM1215.5 354.6h14.9l10.5 10.5v14.9l-10.5 10.5h-14.9l-10.5 -10.5v-14.9zM1219.7 354.7h14.9l10.5 10.5v14.9l-10.5 10.5h-14.9l-10.5 -10.5v-14.9zM1223.9 362.5h14.9l10.5 10.5v14.9l-10.5 10.5h-14.9l-10.5 -10.5v-14.9zM1228.2 379.3h14.9l10.5 10.5v14.9l-10.5 10.5h-14.9l-10.5 -10.5v-14.9zM1232.4 386.1h14.9l10.5 10.5v14.9l-10.5 10.5h-14.9l-10.5 -10.5v-14.9zM1236.6 379.8h14.9l10.5 10.5v14.9l-10.5 10.5h-14.9l-10.5 -10.5v-14.9zM1240.9 389.5h14.9l10.5 10.5v14.9l-10.5 10.5h-14.9l-10.5 -10.5v-14.9zM1245.1 385.1h14.9l10.5 10.5v14.9l-10.5 10.5h-14.9l-10.5 -10.5v-14.9zM1249.3 366.9h14.9l10.5 10.5v14.9l-10.5 10.5h-14.9l-10.5 -10.5v-14.9zM1253.6 359.2h14.9l10.5 10.5v14.9l-10.5 10.5h-14.9l-10.5 -10.5v-14.9zM1257.8 362.4h14.9l10.5 10.5v14.9l-10.5 10.5h-14.9l-10.5 -10.5v-14.9zM1262.1 353.4h14.9l10.5 10.5v14.9l-10.5 10.5h-14.9l-10.5 -10.5v-14.9zM1266.3 369h14.9l10.5 10.5v14.9l-10.5 10.5h-14.9l-10.5 -10.5v-14.9zM1270.5 369.9h14.9l10.5 10.5v14.9l-10.5 10.5h-14.9l-10.5 -10.5v-14.9zM1274.8 356h14.9l10.5 10.5v14.9l-10.5 10.5h-14.9l-10.5 -10.5v-14.9zM1279 351.5h14.9l10.5 10.5v14.9l-10.5 10.5h-14.9l-10.5 -10.5v-14.9zM1283.2 357h14.9l10.5 10.5v14.9l-10.5 10.5h-14.9l-10.5 -10.5v-14.9zM1287.5 372h14.9l10.5 10.5v14.9l-10.5 10.5h-14.9l-10.5 -10.5v-14.9zM1291.7 379.6h14.9l10.5 10.5v14.9l-10.5 10.5h-14.9l-10.5 -10.5v-14.9zM1296 378.1h14.9l10.5 10.5v14.9l-10.5 10.5h-14.9l-10.5 -10.5v-14.9zM1300.2 369.1h14.9l10.5 10.5v14.9l-10.5 10.5h-14.9l-10.5 -10.5v-14.9zM1304.4 375h14.9l10.5 10.5v14.9l-10.5 10.5h-14.9l-10.5 -10.5v-14.9zM1308.7 380.8h14.9l10.5 10.5v14.9l-10.5 10.5h-14.9l-10.5 -10.5v-14.9zM1312.9 397h14.9l10.5 10.5v14.9l-10.5 10.5h-14.9l-10.5 -10.5v-14.9zM1317.1 390.4h14.9l10.5 10.5v14.9l-10.5 10.5h-14.9l-10.5 -10.5v-14.9zM1321.4 366.9h14.9l10.5 10.5v14.9l-10.5 10.5h-14.9l-10.5 -10.5v-14.9zM1325.6 354.9h14.9l10.5 10.5v14.9l-10.5 10.5h-14.9l-10.5 -10.5v-14.9zM1329.8 338.2h14.9l10.5 10.5v14.9l-10.5 10.5h-14.9l-10.5 -10.5v-14.9zM1334.1 337.6h14.9l10.5 10.5v14.9l-10.5 10.5h-14.9l-10.5 -10.5v-14.9zM1338.3 345.9h14.9l10.5 10.5v14.9l-10.5 10.5h-14.9l-10.5 -10.5v-14.9zM1342.6 330.1h14.9l10.5 10.5v14.9l-10.5 10.5h-14.9l-10.5 -10.5v-14.9zM1346.8 329.4h14.9l10.5 10.5v14.9l-10.5 10.5h-14.9l-10.5 -10.5v-14.9zM1351 322.3h14.9l10.5 10.5v14.9l-10.5 10.5h-14.9l-10.5 -10.5v-14.9zM1355.3 308.7h14.9l10.5 10.5v14.9l-10.5 10.5h-14.9l-10.5 -10.5v-14.9zM1359.5 293.5h14.9l10.5 10.5v14.9l-10.5 10.5h-14.9l-10.5 -10.5v-14.9zM1363.7 287.9h14.9l10.5 10.5v14.9l-10.5 10.5h-14.9l-10.5 -10.5v-14.9zM1368 275.5h14.9l10.5 10.5v14.9l-10.5 10.5h-14.9l-10.5 -10.5v-14.9zM1372.2 262.4h14.9l10.5 10.5v14.9l-10.5 10.5h-14.9l-10.5 -10.5v-14.9zM1376.5 264.2h14.9l10.5 10.5v14.9l-10.5 10.5h-14.9l-10.5 -10.5v-14.9zM1380.7 253.3h14.9l10.5 10.5v14.9l-10.5 10.5h-14.9l-10.5 -10.5v-14.9zM1384.9 256.7h14.9l10.5 10.5v14.9l-10.5 10.5h-14.9l-10.5 -10.5v-14.9zM1389.2 264.7h14.9l10.5 10.5v14.9l-10.5 10.5h-14.9l-10.5 -10.5v-14.9zM1393.4 264.5h14.9l10.5 10.5v14.9l-10.5 10.5h-14.9l-10.5 -10.5v-14.9zM1397.6 279.5h14.9l10.5 10.5v14.9l-10.5 10.5h-14.9l-10.5 -10.5v-14.9zM1401.9 295.8h14.9l10.5 10.5v14.9l-10.5 10.5h-14.9l-10.5 -10.5v-14.9zM1406.1 282.5h14.9l10.5 10.5v14.9l-10.5 10.5h-14.9l-10.5 -10.5v-14.9zM1410.4 280.2h14.9l10.5 10.5v14.9l-10.5 10.5h-14.9l-10.5 -10.5v-14.9zM1414.6 280.5h14.9l10.5 10.5v14.9l-10.5 10.5h-14.9l-10.5 -10.5v-14.9zM1418.8 290.5h14.9l10.5 10.5v14.9l-10.5 10.5h-14.9l-10.5 -10.5v-14.9zM1423.1 290.4h14.9l10.5 10.5v14.9l-10.5 10.5h-14.9l-10.5 -10.5v-14.9zM1427.3 294.2h14.9l10.5 10.5v14.9l-10.5 10.5h-14.9l-10.5 -10.5v-14.9zM1431.5 300h14.9l10.5 10.5v14.9l-10.5 10.5h-14.9l-10.5 -10.5v-14.9zM1435.8 301.4h14.9l10.5 10.5v14.9l-10.5 10.5h-14.9l-10.5 -10.5v-14.9zM1440 315.4h14.9l10.5 10.5v14.9l-10.5 10.5h-14.9l-10.5 -10.5v-14.9zM1444.2 322.8h14.9l10.5 10.5v14.9l-10.5 10.5h-14.9l-10.5 -10.5v-14.9zM1448.5 323.7h14.9l10.5 10.5v14.9l-10.5 10.5h-14.9l-10.5 -10.5v-14.9zM1452.7 308.1h14.9l10.5 10.5v14.9l-10.5 10.5h-14.9l-10.5 -10.5v-14.9zM1457 308.9h14.9l10.5 10.5v14.9l-10.5 10.5h-14.9l-10.5 -10.5v-14.9zM1461.2 324.8h14.9l10.5 10.5v14.9l-10.5 10.5h-14.9l-10.5 -10.5v-14.9zM1465.4 317.3h14.9l10.5 10.5v14.9l-10.5 10.5h-14.9l-10.5 -10.5v-14.9zM1469.7 319.9h14.9l10.5 10.5v14.9l-10.5 10.5h-14.9l-10.5 -10.5v-14.9zM1473.9 311.8h14.9l10.5 10.5v14.9l-10.5 10.5h-14.9l-10.5 -10.5v-14.9zM1478.1 313.9h14.9l10.5 10.5v14.9l-10.5 10.5h-14.9l-10.5 -10.5v-14.9zM1482.4 326.6h14.9l10.5 10.5v14.9l-10.5 10.5h-14.9l-10.5 -10.5v-14.9zM1486.6 323.8h14.9l10.5 10.5v14.9l-10.5 10.5h-14.9l-10.5 -10.5v-14.9zM1490.9 324.5h14.9l10.5 10.5v14.9l-10.5 10.5h-14.9l-10.5 -10.5v-14.9zM1495.1 328.8h14.9l10.5 10.5v14.9l-10.5 10.5h-14.9l-10.5 -10.5v-14.9zM1499.3 336.5h14.9l10.5 10.5v14.9l-10.5 10.5h-14.9l-10.5 -10.5v-14.9zM1503.6 329.7h14.9l10.5 10.5v14.9l-10.5 10.5h-14.9l-10.5 -10.5v-14.9zM1507.8 330h14.9l10.5 10.5v14.9l-10.5 10.5h-14.9l-10.5 -10.5v-14.9zM1512 328.1h14.9l10.5 10.5v14.9l-10.5 10.5h-14.9l-10.5 -10.5v-14.9zM1516.3 339h14.9l10.5 10.5v14.9l-10.5 10.5h-14.9l-10.5 -10.5v-14.9zM1520.5 334.3h14.9l10.5 10.5v14.9l-10.5 10.5h-14.9l-10.5 -10.5v-14.9zM1524.8 337.4h14.9l10.5 10.5v14.9l-10.5 10.5h-14.9l-10.5 -10.5v-14.9zM1529 346.9h14.9l10.5 10.5v14.9l-10.5 10.5h-14.9l-10.5 -10.5v-14.9zM1533.2 344.4h14.9l10.5 10.5v14.9l-10.5 10.5h-14.9l-10.5 -10.5v-14.9zM1537.5 344.1h14.9l10.5 10.5v14.9l-10.5 10.5h-14.9l-10.5 -10.5v-14.9zM1541.7 357.6h14.9l10.5 10.5v14.9l-10.5 10.5h-14.9l-10.5 -10.5v-14.9zM1545.9 357.1h14.9l10.5 10.5v14.9l-10.5 10.5h-14.9l-10.5 -10.5v-14.9zM1550.2 340.6h14.9l10.5 10.5v14.9l-10.5 10.5h-14.9l-10.5 -10.5v-14.9zM1554.4 357.7h14.9l10.5 10.5v14.9l-10.5 10.5h-14.9l-10.5 -10.5v-14.9zM1558.6 351h14.9l10.5 10.5v14.9l-10.5 10.5h-14.9l-10.5 -10.5v-14.9zM1562.9 354.8h14.9l10.5 10.5v14.9l-10.5 10.5h-14.9l-10.5 -10.5v-14.9zM1567.1 369.7h14.9l10.5 10.5v14.9l-10.5 10.5h-14.9l-10.5 -10.5v-14.9zM1571.4 373.5h14.9l10.5 10.5v14.9l-10.5 10.5h-14.9l-10.5 -10.5v-14.9zM1575.6 386.8h14.9l10.5 10.5v14.9l-10.5 10.5h-14.9l-10.5 -10.5v-14.9zM1579.8 393.5h14.9l10.5 10.5v14.9l-10.5 10.5h-14.9l-10.5 -10.5v-14.9zM1584.1 380.8h14.9l10.5 10.5v14.9l-10.5 10.5h-14.9l-10.5 -10.5v-14.9zM1588.3 370h14.9l10.5 10.5v14.9l-10.5 10.5h-14.9l-10.5 -10.5v-14.9zM1592.5 358.4h14.9l10.5 10.5v14.9l-10.5 10.5h-14.9l-10.5 -10.5v-14.9zM1596.8 355.4h14.9l10.5 10.5v14.9l-10.5 10.5h-14.9l-10.5 -10.5v-14.9zM1601 361h14.9l10.5 10.5v14.9l-10.5 10.5h-14.9l-10.5 -10.5v-14.9zM1605.3 353.1h14.9l10.5 10.5v14.9l-10.5 10.5h-14.9l-10.5 -10.5v-14.9zM1609.5 360.9h14.9l10.5 10.5v14.9l-10.5 10.5h-14.9l-10.5 -10.5v-14.9zM1613.7 346.2h14.9l10.5 10.5v14.9l-10.5 10.5h-14.9l-10.5 -10.5v-14.9zM1618 339h14.9l10.5 10.5v14.9l-10.5 10.5h-14.9l-10.5 -10.5v-14.9zM1622.2 338.9h14.9l10.5 10.5v14.9l-10.5 10.5h-14.9l-10.5 -10.5v-14.9zM1626.4 324.8h14.9l10.5 10.5v14.9l-10.5 10.5h-14.9l-10.5 -10.5v-14.9zM1630.7 328.2h14.9l10.5 10.5v14.9l-10.5 10.5h-14.9l-10.5 -10.5v-14.9zM1634.9 344.9h14.9l10.5 10.5v14.9l-10.5 10.5h-14.9l-10.5 -10.5v-14.9zM1639.2 334.5h14.9l10.5 10.5v14.9l-10.5 10.5h-14.9l-10.5 -10.5v-14.9zM1643.4 341.9h14.9l10.5 10.5v14.9l-10.5 10.5h-14.9l-10.5 -10.5v-14.9zM1647.6 333h14.9l10.5 10.5v14.9l-10.5 10.5h-14.9l-10.5 -10.5v-14.9zM1651.9 334.1h14.9l10.5 10.5v14.9l-10.5 10.5h-14.9l-10.5 -10.5v-14.9zM1656.1 335.2h14.9l10.5 10.5v14.9l-10.5 10.5h-14.9l-10.5 -10.5v-14.9zM1660.3 332.4h14.9l10.5 10.5v14.9l-10.5 10.5h-14.9l-10.5 -10.5v-14.9zM1664.6 348h14.9l10.5 10.5v14.9l-10.5 10.5h-14.9l-10.5 -10.5v-14.9zM1668.8 335h14.9l10.5 10.5v14.9l-10.5 10.5h-14.9l-10.5 -10.5v-14.9zM1673 345.5h14.9l10.5 10.5v14.9l-10.5 10.5h-14.9l-10.5 -10.5v-14.9zM1677.3 323.6h14.9l10.5 10.5v14.9l-10.5 10.5h-14.9l-10.5 -10.5v-14.9zM1681.5 321.4h14.9l10.5 10.5v14.9l-10.5 10.5h-14.9l-10.5 -10.5v-14.9zM1685.8 335h14.9l10.5 10.5v14.9l-10.5 10.5h-14.9l-10.5 -10.5v-14.9zM1690 320.7h14.9l10.5 10.5v14.9l-10.5 10.5h-14.9l-10.5 -10.5v-14.9zM1694.2 324.8h14.9l10.5 10.5v14.9l-10.5 10.5h-14.9l-10.5 -10.5v-14.9zM1698.5 343.1h14.9l10.5 10.5v14.9l-10.5 10.5h-14.9l-10.5 -10.5v-14.9zM1702.7 335.8h14.9l10.5 10.5v14.9l-10.5 10.5h-14.9l-10.5 -10.5v-14.9zM1706.9 329.2h14.9l10.5 10.5v14.9l-10.5 10.5h-14.9l-10.5 -10.5v-14.9zM1711.2 339.8h14.9l10.5 10.5v14.9l-10.5 10.5h-14.9l-10.5 -10.5v-14.9zM1715.4 336.6h14.9l10.5 10.5v14.9l-10.5 10.5h-14.9l-10.5 -10.5v-14.9zM1719.7 322.8h14.9l10.5 10.5v14.9l-10.5 10.5h-14.9l-10.5 -10.5v-14.9zM1723.9 317h14.9l10.5 10.5v14.9l-10.5 10.5h-14.9l-10.5 -10.5v-14.9zM1728.1 306.4h14.9l10.5 10.5v14.9l-10.5 10.5h-14.9l-10.5 -10.5v-14.9zM1732.4 314.7h14.9l10.5 10.5v14.9l-10.5 10.5h-14.9l-10.5 -10.5v-14.9zM1736.6 316.2h14.9l10.5 10.5v14.9l-10.5 10.5h-14.9l-10.5 -10.5v-14.9zM1740.8 311.1h14.9l10.5 10.5v14.9l-10.5 10.5h-14.9l-10.5 -10.5v-14.9zM1745.1 320.1h14.9l10.5 10.5v14.9l-10.5 10.5h-14.9l-10.5 -10.5v-14.9zM1749.3 301.9h14.9l10.5 10.5v14.9l-10.5 10.5h-14.9l-10.5 -10.5v-14.9zM1753.5 323.3h14.9l10.5 10.5v14.9l-10.5 10.5h-14.9l-10.5 -10.5v-14.9zM1757.8 328.2h14.9l10.5 10.5v14.9l-10.5 10.5h-14.9l-10.5 -10.5v-14.9zM1762 339.6h14.9l10.5 10.5v14.9l-10.5 10.5h-14.9l-10.5 -10.5v-14.9zM1766.3 346.2h14.9l10.5 10.5v14.9l-10.5 10.5h-14.9l-10.5 -10.5v-14.9zM1770.5 354.3h14.9l10.5 10.5v14.9l-10.5 10.5h-14.9l-10.5 -10.5v-14.9zM1774.7 368.7h14.9l10.5 10.5v14.9l-10.5 10.5h-14.9l-10.5 -10.5v-14.9zM1779 373.2h14.9l10.5 10.5v14.9l-10.5 10.5h-14.9l-10.5 -10.5v-14.9zM1783.2 373.7h14.9l10.5 10.5v14.9l-10.5 10.5h-14.9l-10.5 -10.5v-14.9zM1787.4 373.3h14.9l10.5 10.5v14.9l-10.5 10.5h-14.9l-10.5 -10.5v-14.9zM1791.7 358.8h14.9l10.5 10.5v14.9l-10.5 10.5h-14.9l-10.5 -10.5v-14.9zM1795.9 371.3h14.9l10.5 10.5v14.9l-10.5 10.5h-14.9l-10.5 -10.5v-14.9zM1800.2 363.5h14.9l10.5 10.5v14.9l-10.5 10.5h-14.9l-10.5 -10.5v-14.9zM1804.4 371.1h14.9l10.5 10.5v14.9l-10.5 10.5h-14.9l-10.5 -10.5v-14.9zM1808.6 364.8h14.9l10.5 10.5v14.9l-10.5 10.5h-14.9l-10.5 -10.5v-14.9zM1812.9 358.4h14.9l10.5 10.5v14.9l-10.5 10.5h-14.9l-10.5 -10.5v-14.9zM1817.1 375.2h14.9l10.5 10.5v14.9l-10.5 10.5h-14.9l-10.5 -10.5v-14.9zM1821.3 385.8h14.9l10.5 10.5v14.9l-10.5 10.5h-14.9l-10.5 -10.5v-14.9zM1825.6 385.8h14.9l10.5 10.5v14.9l-10.5 10.5h-14.9l-10.5 -10.5v-14.9zM1829.8 380.1h14.9l10.5 10.5v14.9l-10.5 10.5h-14.9l-10.5 -10.5v-14.9zM1834.1 379.8h14.9l10.5 10.5v14.9l-10.5 10.5h-14.9l-10.5 -10.5v-14.9zM1838.3 357.8h14.9l10.5 10.5v14.9l-10.5 10.5h-14.9l-10.5 -10.5v-14.9zM1842.5 351.3h14.9l10.5 10.5v14.9l-10.5 10.5h-14.9l-10.5 -10.5v-14.9zM1846.8 347.2h14.9l10.5 10.5v14.9l-10.5 10.5h-14.9l-10.5 -10.5v-14.9zM1851 337.9h14.9l10.5 10.5v14.9l-10.5 10.5h-14.9l-10.5 -10.5v-14.9zM1855.2 318.8h14.9l10.5 10.5v14.9l-10.5 10.5h-14.9l-10.5 -10.5v-14.9zM1859.5 326h14.9l10.5 10.5v14.9l-10.5 10.5h-14.9l-10.5 -10.5v-14.9zM1863.7 305.8h14.9l10.5 10.5v14.9l-10.5 10.5h-14.9l-10.5 -10.5v-14.9zM1867.9 298.6h14.9l10.5 10.5v14.9l-10.5 10.5h-14.9l-10.5 -10.5v-14.9zM1872.2 298.7h14.9l10.5 10.5v14.9l-10.5 10.5h-14.9l-10.5 -10.5v-14.9zM1876.4 309.8h14.9l10.5 10.5v14.9l-10.5 10.5h-14.9l-10.5 -10.5v-14.9zM1880.7 305h14.9l10.5 10.5v14.9l-10.5 10.5h-14.9l-10.5 -10.5v-14.9zM1884.9 284.4h14.9l10.5 10.5v14.9l-10.5 10.5h-14.9l-10.5 -10.5v-14.9zM1889.1 281h14.9l10.5 10.5v14.9l-10.5 10.5h-14.9l-10.5 -10.5v-14.9zM1893.4 298.1h14.9l10.5 10.5v14.9l-10.5 10.5h-14.9l-10.5 -10.5v-14.9zM1897.6 311h14.9l10.5 10.5v14.9l-10.5 10.5h-14.9l-10.5 -10.5v-14.9zM1901.8 322.1h14.9l10.5 10.5v14.9l-10.5 10.5h-14.9l-10.5 -10.5v-14.9zM1906.1 312.6h14.9l10.5 10.5v14.9l-10.5 10.5h-14.9l-10.5 -10.5v-14.9zM1910.3 319h14.9l10.5 10.5v14.9l-10.5 10.5h-14.9l-10.5 -10.5v-14.9zM1914.6 313.3h14.9l10.5 10.5v14.9l-10.5 10.5h-14.9l-10.5 -10.5v-14.9zM1918.8 330.8h14.9l10.5 10.5v14.9l-10.5 10.5h-14.9l-10.5 -10.5v-14.9zM1923 348h14.9l10.5 10.5v14.9l-10.5 10.5h-14.9l-10.5 -10.5v-14.9zM1927.3 350.9h14.9l10.5 10.5v14.9l-10.5 10.5h-14.9l-10.5 -10.5v-14.9zM1931.5 340.2h14.9l10.5 10.5v14.9l-10.5 10.5h-14.9l-10.5 -10.5v-14.9zM1935.7 335h14.9l10.5 10.5v14.9l-10.5 10.5h-14.9l-10.5 -10.5v-14.9zM1940 328.1h14.9l10.5 10.5v14.9l-10.5 10.5h-14.9l-10.5 -10.5v-14.9zM1944.2 341.6h14.9l10.5 10.5v14.9l-10.5 10.5h-14.9l-10.5 -10.5v-14.9zM1948.5 340.7h14.9l10.5 10.5v14.9l-10.5 10.5h-14.9l-10.5 -10.5v-14.9zM1952.7 348.9h14.9l10.5 10.5v14.9l-10.5 10.5h-14.9l-10.5 -10.5v-14.9zM1956.9 366.3h14.9l10.5 10.5v14.9l-10.5 10.5h-14.9l-10.5 -10.5v-14.9zM1961.2 357.4h14.9l10.5 10.5v14.9l-10.5 10.5h-14.9l-10.5 -10.5v-14.9zM1965.4 357h14.9l10.5 10.5v14.9l-10.5 10.5h-14.9l-10.5 -10.5v-14.9zM1969.6 344.9h14.9l10.5 10.5v14.9l-10.5 10.5h-14.9l-10.5 -10.5v-14.9zM1973.9 344.3h14.9l10.5 10.5v14.9l-10.5 10.5h-14.9l-10.5 -10.5v-14.9zM1978.1 355.3h14.9l10.5 10.5v14.9l-10.5 10.5h-14.9l-10.5 -10.5v-14.9zM1982.3 341h14.9l10.5 10.5v14.9l-10.5 10.5h-14.9l-10.5 -10.5v-14.9zM1986.6 335.3h14.9l10.5 10.5v14.9l-10.5 10.5h-14.9l-10.5 -10.5v-14.9zM1990.8 338.9h14.9l10.5 10.5v14.9l-10.5 10.5h-14.9l-10.5 -10.5v-14.9zM1995.1 326h14.9l10.5 10.5v14.9l-10.5 10.5h-14.9l-10.5 -10.5v-14.9zM1999.3 311.4h14.9l10.5 10.5v14.9l-10.5 10.5h-14.9l-10.5 -10.5v-14.9zM2003.5 302.9h14.9l10.5 10.5v14.9l-10.5 10.5h-14.9l-10.5 -10.5v-14.9zM2007.8 287.3h14.9l10.5 10.5v14.9l-10.5 10.5h-14.9l-10.5 -10.5v-14.9zM2012 293.4h14.9l10.5 10.5v14.9l-10.5 10.5h-14.9l-10.5 -10.5v-14.9zM2016.2 277h14.9l10.5 10.5v14.9l-10.5 10.5h-14.9l-10.5 -10.5v-14.9zM2020.5 277.1h14.9l10.5 10.5v14.9l-10.5 10.5h-14.9l-10.5 -10.5v-14.9zM2024.7 294.4h14.9l10.5 10.5v14.9l-10.5 10.5h-14.9l-10.5 -10.5v-14.9zM2029 297.6h14.9l10.5 10.5v14.9l-10.5 10.5h-14.9l-10.5 -10.5v-14.9zM2033.2 281.3h14.9l10.5 10.5v14.9l-10.5 10.5h-14.9l-10.5 -10.5v-14.9zM2037.4 273.5h14.9l10.5 10.5v14.9l-10.5 10.5h-14.9l-10.5 -10.5v-14.9zM2041.7 268.8h14.9l10.5 10.5v14.9l-10.5 10.5h-14.9l-10.5 -10.5v-14.9zM2045.9 263.1h14.9l10.5 10.5v14.9l-10.5 10.5h-14.9l-10.5 -10.5v-14.9zM2050.1 242.3h14.9l10.5 10.5v14.9l-10.5 10.5h-14.9l-10.5 -10.5v-14.9zM2054.4 238.8h14.9l10.5 10.5v14.9l-10.5 10.5h-14.9l-10.5 -10.5v-14.9zM2058.6 252.4h14.9l10.5 10.5v14.9l-10.5 10.5h-14.9l-10.5 -10.5v-14.9zM2062.9 252.4h14.9l10.5 10.5v14.9l-10.5 10.5h-14.9l-10.5 -10.5v-14.9zM2067.1 238.7h14.9l10.5 10.5v14.9l-10.5 10.5h-14.9l-10.5 -10.5v-14.9zM2071.3 243h14.9l10.5 10.5v14.9l-10.5 10.5h-14.9l-10.5 -10.5v-14.9zM2075.6 248.1h14.9l10.5 10.5v14.9l-10.5 10.5h-14.9l-10.5 -10.5v-14.9zM2079.8 261.4h14.9l10.5 10.5v14.9l-10.5 10.5h-14.9l-10.5 -10.5v-14.9zM2084 246.8h14.9l10.5 10.5v14.9l-10.5 10.5h-14.9l-10.5 -10.5v-14.9zM2088.3 242.5h14.9l10.5 10.5v14.9l-10.5 10.5h-14.9l-10.5 -10.5v-14.9zM2092.5 230.5h14.9l10.5 10.5v14.9l-10.5 10.5h-14.9l-10.5 -10.5v-14.9zM2096.7 240.4h14.9l10.5 10.5v14.9l-10.5 10.5h-14.9l-10.5 -10.5v-14.9zM2101 240.2h14.9l10.5 10.5v14.9l-10.5 10.5h-14.9l-10.5 -10.5v-14.9zM2105.2 229.8h14.9l10.5 10.5v14.9l-10.5 10.5h-14.9l-10.5 -10.5v-14.9zM2109.5 246.9h14.9l10.5 10.5v14.9l-10.5 10.5h-14.9l-10.5 -10.5v-14.9zM2113.7 258.8h14.9l10.5 10.5v14.9l-10.5 10.5h-14.9l-10.5 -10.5v-14.9zM2117.9 267.1h14.9l10.5 10.5v14.9l-10.5 10.5h-14.9l-10.5 -10.5v-14.9zM2122.2 286h14.9l10.5 10.5v14.9l-10.5 10.5h-14.9l-10.5 -10.5v-14.9zM2126.4 283.9h14.9l10.5 10.5v14.9l-10.5 10.5h-14.9l-10.5 -10.5v-14.9zM2130.6 292.6h14.9l10.5 10.5v14.9l-10.5 10.5h-14.9l-10.5 -10.5v-14.9zM2134.9 281.9h14.9l10.5 10.5v14.9l-10.5 10.5h-14.9l-10.5 -10.5v-14.9zM2139.1 290.8h14.9l10.5 10.5v14.9l-10.5 10.5h-14.9l-10.5 -10.5v-14.9zM2143.4 290.3h14.9l10.5 10.5v14.9l-10.5 10.5h-14.9l-10.5 -10.5v-14.9zM2147.6 297h14.9l10.5 10.5v14.9l-10.5 10.5h-14.9l-10.5 -10.5v-14.9zM2151.8 283.1h14.9l10.5 10.5v14.9l-10.5 10.5h-14.9l-10.5 -10.5v-14.9zM2156.1 281h14.9l10.5 10.5v14.9l-10.5 10.5h-14.9l-10.5 -10.5v-14.9zM2160.3 290.7h14.9l10.5 10.5v14.9l-10.5 10.5h-14.9l-10.5 -10.5v-14.9zM2164.5 273.6h14.9l10.5 10.5v14.9l-10.5 10.5h-14.9l-10.5 -10.5v-14.9zM2168.8 264h14.9l10.5 10.5v14.9l-10.5 10.5h-14.9l-10.5 -10.5v-14.9zM2173 261.8h14.9l10.5 10.5v14.9l-10.5 10.5h-14.9l-10.5 -10.5v-14.9zM2177.2 245.4h14.9l10.5 10.5v14.9l-10.5 10.5h-14.9l-10.5 -10.5v-14.9zM2181.5 240.9h14.9l10.5 10.5v14.9l-10.5 10.5h-14.9l-10.5 -10.5v-14.9zM2185.7 234.3h14.9l10.5 10.5v14.9l-10.5 10.5h-14.9l-10.5 -10.5v-14.9zM2190 235h14.9l10.5 10.5v14.9l-10.5 10.5h-14.9l-10.5 -10.5v-14.9zM2194.2 250.1h14.9l10.5 10.5v14.9l-10.5 10.5h-14.9l-10.5 -10.5v-14.9zM2198.4 267.1h14.9l10.5 10.5v14.9l-10.5 10.5h-14.9l-10.5 -10.5v-14.9zM2202.7 275h14.9l10.5 10.5v14.9l-10.5 10.5h-14.9l-10.5 -10.5v-14.9zM2206.9 278.8h14.9l10.5 10.5v14.9l-10.5 10.5h-14.9l-10.5 -10.5v-14.9zM2211.1 288h14.9l10.5 10.5v14.9l-10.5 10.5h-14.9l-10.5 -10.5v-14.9zM2215.4 290.2h14.9l10.5 10.5v14.9l-10.5 10.5h-14.9l-10.5 -10.5v-14.9zM2219.6 303.1h14.9l10.5 10.5v14.9l-10.5 10.5h-14.9l-10.5 -10.5v-14.9zM2223.9 316.1h14.9l10.5 10.5v14.9l-10.5 10.5h-14.9l-10.5 -10.5v-14.9zM2228.1 326.8h14.9l10.5 10.5v14.9l-10.5 10.5h-14.9l-10.5 -10.5v-14.9zM2232.3 323.2h14.9l10.5 10.5v14.9l-10.5 10.5h-14.9l-10.5 -10.5v-14.9zM2236.6 324.6h14.9l10.5 10.5v14.9l-10.5 10.5h-14.9l-10.5 -10.5v-14.9zM2240.8 322.4h14.9l10.5 10.5v14.9l-10.5 10.5h-14.9l-10.5 -10.5v-14.9zM2245 330.9h14.9l10.5 10.5v14.9l-10.5 10.5h-14.9l-10.5 -10.5v-14.9zM2249.3 347.7h14.9l10.5 10.5v14.9l-10.5 10.5h-14.9l-10.5 -10.5v-14.9zM2253.5 354.8h14.9l10.5 10.5v14.9l-10.5 10.5h-14.9l-10.5 -10.5v-14.9zM2257.8 348.5h14.9l10.5 10.5v14.9l-10.5 10.5h-14.9l-10.5 -10.5v-14.9zM2262 342h14.9l10.5 10.5v14.9l-10.5 10.5h-14.9l-10.5 -10.5v-14.9zM2266.2 336.7h14.9l10.5 10.5v14.9l-10.5 10.5h-14.9l-10.5 -10.5v-14.9zM2270.5 332.5h14.9l10.5 10.5v14.9l-10.5 10.5h-14.9l-10.5 -10.5v-14.9zM2274.7 353.1h14.9l10.5 10.5v14.9l-10.5 10.5h-14.9l-10.5 -10.5v-14.9zM2278.9 348.7h14.9l10.5 10.5v14.9l-10.5 10.5h-14.9l-10.5 -10.5v-14.9zM2283.2 328.7h14.9l10.5 10.5v14.9l-10.5 10.5h-14.9l-10.5 -10.5v-14.9zM2287.4 330.9h14.9l10.5 10.5v14.9l-10.5 10.5h-14.9l-10.5 -10.5v-14.9zM2291.6 350.1h14.9l10.5 10.5v14.9l-10.5 10.5h-14.9l-10.5 -10.5v-14.9zM2295.9 332.9h14.9l10.5 10.5v14.9l-10.5 10.5h-14.9l-10.5 -10.5v-14.9zM2300.1 332.7h14.9l10.5 10.5v14.9l-10.5 10.5h-14.9l-10.5 -10.5v-14.9zM2304.4 330.9h14.9l10.5 10.5v14.9l-10.5 10.5h-14.9l-10.5 -10.5v-14.9zM2308.6 338.3h14.9l10.5 10.5v14.9l-10.5 10.5h-14.9l-10.5 -10.5v-14.9zM2312.8 354.6h14.9l10.5 10.5v14.9l-10.5 10.5h-14.9l-10.5 -10.5v-14.9zM2317.1 346.2h14.9l10.5 10.5v14.9l-10.5 10.5h-14.9l-10.5 -10.5v-14.9zM2321.3 358.3h14.9l10.5 10.5v14.9l-10.5 10.5h-14.9l-10.5 -10.5v-14.9zM2325.5 345h14.9l10.5 10.5v14.9l-10.5 10.5h-14.9l-10.5 -10.5v-14.9z"/>
<text class="t" transform="translate(212.8 581.2) scale(1.03 1)" text-anchor="middle">0</text>
<text class="t" transform="translate(424.7 581.2) scale(1.03 1)" text-anchor="middle">50</text>
<text class="t" transform="translate(636.5 581.2) scale(1.03 1)" text-anchor="middle">100</text>
<text class="t" transform="translate(848.4 581.2) scale(1.03 1)" text-anchor="middle">150</text>
<text class="t" transform="translate(1060.2 581.2) scale(1.03 1)" text-anchor="middle">200</text>
<text class="t" transform="translate(1272 581.2) scale(1.03 1)" text-anchor="middle">250</text>
<text class="t" transform="translate(1483.9 581.2) scale(1.03 1)" text-anchor="middle">300</text>
<text class="t" transform="translate(1695.8 581.2) scale(1.03 1)" text-anchor="middle">350</text>
<text class="t" transform="translate(1907.6 581.2) scale(1.03 1)" text-anchor="middle">400</text>
<text class="t" transform="translate(2119.5 581.2) scale(1.03 1)" text-anchor="middle">450</text>
<text class="t" transform="translate(2331.3 581.2) scale(1.03 1)" text-anchor="middle">500</text>
<text class="t" transform="translate(185.8 66.9) scale(1.03 1)" text-anchor="end">5</text>
<text class="t" transform="translate(185.8 289.4) scale(1.03 1)" text-anchor="end">0</text>
<text class="t" transform="translate(185.8 511.9) scale(1.03 1)" text-anchor="end">-5</text>
</g>
<g>
<path class="ax" d="M426.4 1096.4v-22.2M426.4 655.9v22.2M638.2 1096.4v-22.2M638.2 655.9v22.2M850.1 1096.4v-22.2M850.1 655.9v22.2M1061.9 1096.4v-22.2M1061.9 655.9v22.2M1273.8 1096.4v-22.2M1273.8 655.9v22.2M1485.6 1096.4v-22.2M1485.6 655.9v22.2M1697.5 1096.4v-22.2M1697.5 655.9v22.2M1909.3 1096.4v-22.2M1909.3 655.9v22.2M2121.2 1096.4v-22.2M2121.2 655.9v22.2M214.5 876h22.2M2333 876h-22.2"/>
<rect class="ax" x="214.5" y="655.9" width="2118.5" height="440.5"/>
<polyline class="b" points="218.7,1019.7 223,963.2 227.2,906.7 231.4,976.2 235.7,852.3 239.9,728.5 244.2,819.6 248.4,838.7 252.6,857.8 256.9,1038.8 261.1,931.7 265.3,824.6 269.6,717.6 273.8,991.1 278.1,761.9 282.3,1023.8 286.5,883.6 290.8,888.2 295,1022.4 299.2,780.2 303.5,902 307.7,1023.8 312,928.8 316.2,833.8 320.4,875.7 324.7,917.6 328.9,850.9 333.1,898.6 337.4,784.3 341.6,785.6 345.8,898.2 350.1,1010.7 354.3,937.2 358.6,994.4 362.8,1051.6 367,982.4 371.3,913.3 375.5,844.1 379.7,1023.8 384,863.2 388.2,935.3 392.5,1007.5 396.7,885.7 400.9,763.8 405.2,1030.6 409.4,846.9 413.6,944.9 417.9,1042.8 422.1,960.5 426.4,878.1 430.6,795.7 434.8,897.8 439.1,999.8 443.3,882.2 447.5,764.7 451.8,854.2 456,943.8 460.2,1033.3 464.5,936.7 468.7,840.1 473,743.4 477.2,969.9 481.4,868.2 485.7,766.6 489.9,773.4 494.1,729.3 498.4,865 502.6,1000.7 506.9,740.7 511.1,833.5 515.3,926.3 519.6,833.8 523.8,903.5 528,973.2 532.3,1042.8 536.5,980.8 540.7,1008.8 545,895.2 549.2,781.5 553.5,872.7 557.7,838.7 561.9,977.5 566.2,877.5 570.4,777.5 574.6,1040.1 578.9,756.5 583.1,1041.5 587.4,898.6 591.6,755.7 595.8,957.6 600.1,853.3 604.3,748.9 608.5,1044.7 612.8,864.6 617,949.6 621.3,1034.7 625.5,952 629.7,869.3 634,786.6 638.2,704 642.4,806 646.7,908.1 650.9,835.6 655.1,763 659.4,834.3 663.6,905.7 667.9,977 672.1,900.7 676.3,824.4 680.6,748.1 684.8,823.7 689,773.4 693.3,723 697.5,755.7 701.8,788.3 706,800.6 710.2,739.9 714.5,1049.6 718.7,713.5 722.9,813.5 727.2,913.6 731.4,748.9 735.7,908.9 739.9,806.6 744.1,1002 748.4,1010.7 752.6,717.6 756.8,784.5 761.1,851.5 765.3,814.1 769.5,776.6 773.8,889.1 778,799.2 782.3,923.1 786.5,1046.9 790.7,849.6 795,1028.7 799.2,810.1 803.4,897.2 807.7,816.9 811.9,1046.9 816.2,716.8 820.4,1033.9 824.6,745.6 828.9,1027.1 833.1,722.5 837.3,878.8 841.6,1035.2 845.8,834.6 850.1,825.1 854.3,754.3 858.5,733.9 862.8,729 867,1033.3 871.2,1047.5 875.5,792.4 879.7,940.2 883.9,857.8 888.2,962.5 892.4,744.2 896.7,910.3 900.9,767.4 905.1,830.5 909.4,815 913.6,1027.9 917.8,859.9 922.1,1015.6 926.3,955.9 930.6,896.2 934.8,836.5 939,893.1 943.3,895.9 947.5,827.1 951.7,758.4 956,853.7 960.2,948.9 964.4,834.2 968.7,719.5 972.9,1029.2 977.2,873.5 981.4,1041.5 985.6,947.1 989.9,852.8 994.1,758.4 998.3,1041.5 1002.6,1038.8 1006.8,913.6 1011.1,788.3 1015.3,773.4 1019.5,954.4 1023.8,880.9 1028,915.9 1032.2,950.8 1036.5,833.8 1040.7,934.9 1045,1036 1049.2,892.7 1053.4,749.4 1057.7,965.3 1061.9,868 1066.1,770.7 1070.4,1020.2 1074.6,794.6 1078.8,852 1083.1,909.5 1087.3,854.3 1091.6,799.2 1095.8,978.3 1100,708.9 1104.3,980.2 1108.5,1002 1112.7,1049.6 1117,959.8 1121.2,870 1125.5,950.8 1129.7,831.2 1133.9,711.6 1138.2,886.3 1142.4,781.5 1146.6,780.2 1150.9,924.4 1155.1,910.3 1159.4,961.2 1163.6,985.7 1167.8,1006.1 1172.1,813.4 1176.3,830.5 1180.5,826.4 1184.8,700.4 1189,765.2 1193.2,855 1197.5,1045.6 1201.7,940.8 1206,836 1210.2,932.3 1214.4,1028.7 1218.7,749.7 1222.9,970.7 1227.1,868.6 1231.4,956.8 1235.6,1045 1239.9,946.6 1244.1,848.2 1248.3,1006.9 1252.6,864.7 1256.8,722.5 1261,825.8 1265.3,929.1 1269.5,807.9 1273.8,1032 1278,885.9 1282.2,739.9 1286.5,833.9 1290.7,927.9 1294.9,1021.9 1299.2,947.9 1303.4,874 1307.6,800 1311.9,947.6 1316.1,946.2 1320.4,1048.8 1324.6,882.5 1328.8,716.2 1333.1,758.4 1337.3,712.1 1341.5,837.6 1345.8,963.1 1350,704.8 1354.3,853.7 1358.5,788.3 1362.7,723 1367,710.8 1371.2,804.7 1375.4,800.6 1379.7,724.4 1383.9,872.2 1388.1,746.2 1392.4,851.6 1396.6,957.1 1400.9,874.9 1405.1,1015.6 1409.3,1028.7 1413.6,755.7 1417.8,865.9 1422,890.4 1426.3,973.4 1430.5,874.1 1434.8,911.8 1439,949.5 1443.2,905.9 1447.5,1042.3 1451.7,897.2 1455.9,893.1 1460.2,751.6 1464.4,901.3 1468.7,1051 1472.9,812 1477.1,912.2 1481.4,806.6 1485.6,909.3 1489.8,1012.1 1494.1,859.7 1498.3,894.1 1502.5,928.6 1506.8,963.1 1511,814.7 1515.3,885 1519.5,863.2 1523.7,965.3 1528,821.6 1532.2,898.9 1536.4,976.2 1540.7,857.8 1544.9,879.5 1549.2,1016.2 1553.4,858.4 1557.6,700.7 1561.9,1027.9 1566.1,793.2 1570.3,909.9 1574.6,1026.5 1578.8,925 1583.1,1018.9 1587.3,953 1591.5,776.1 1595.8,770.1 1600,763 1604.2,847.1 1608.5,931.2 1612.7,797.1 1616.9,953 1621.2,719.8 1625.4,794.5 1629.7,869.2 1633.9,729 1638.1,869.9 1642.4,1010.7 1646.6,764.7 1650.8,940.8 1655.1,779.6 1659.3,878.2 1663.6,879 1667.8,839.5 1672,1034.7 1676.3,770.7 1680.5,1002.8 1684.7,704.5 1689,859.4 1693.2,1014.3 1697.5,738.8 1701.7,877.9 1705.9,1017 1710.2,808.2 1714.4,814.2 1718.6,984.3 1722.9,874.8 1727.1,765.2 1731.3,844.1 1735.6,797.1 1739.8,950.8 1744.1,884.6 1748.3,818.3 1752.5,957.9 1756.8,704 1761,1018.9 1765.2,855.8 1769.5,1027.9 1773.7,981.1 1778,995.3 1782.2,1009.6 1786.4,912.2 1790.7,865.9 1794.9,865.9 1799.1,726.3 1803.4,999.8 1807.6,799.8 1811.8,953 1816.1,814.2 1820.3,814.2 1824.6,1027.9 1828.8,966.4 1833,905 1837.3,843.6 1841.5,898 1845.7,757 1850,747 1854.2,806 1858.5,753.4 1862.7,700.7 1866.9,960.4 1871.2,708.6 1875.4,817.7 1879.6,926.9 1883.9,1036 1888.1,879.3 1892.4,722.5 1896.6,882.7 1900.8,1042.8 1905.1,1002 1909.3,983 1913.5,790.5 1917.8,946.8 1922,827.8 1926.2,1028.7 1930.5,1025.1 1934.7,901 1939,776.9 1943.2,831.3 1947.4,815.6 1951.7,1010.2 1955.9,868.6 1960.1,959.1 1964.4,1049.6 1968.6,783.4 1972.9,868.6 1977.1,752.4 1981.3,866.3 1985.6,980.2 1989.8,719.5 1994,804.5 1998.3,889.6 2002.5,727.1 2006.8,717.6 2011,813.4 2015.2,742.1 2019.5,929.9 2023.7,707.2 2027.9,877.3 2032.2,1047.5 2036.4,907 2040.6,766.6 2044.9,797.5 2049.1,828.4 2053.4,769.6 2057.6,710.8 2061.8,858.7 2066.1,1006.6 2070.3,871.4 2074.5,736.1 2078.8,920.4 2083,928.5 2087.3,1010.2 2091.5,733.4 2095.7,834.6 2100,759.8 2104.2,972.9 2108.4,873.1 2112.7,773.4 2116.9,1043.7 2121.2,1008.1 2125.4,972.6 2129.6,1021.9 2133.9,856.4 2138.1,963.1 2142.3,785.6 2146.6,964.4 2150.8,871.4 2155,942.7 2159.3,716.8 2163.5,833.1 2167.8,949.5 2172,706.1 2176.2,779.6 2180.5,853.1 2184.7,712.7 2188.9,808.8 2193.2,787 2197.4,865.9 2201.7,974.8 2205.9,993.8 2210.1,1037.9 2214.4,968.8 2218.6,899.7 2222.8,830.5 2227.1,1036 2231.3,1036 2235.5,937.8 2239.8,839.5 2244,889.1 2248.3,853.7 2252.5,936.7 2256.7,1019.7 2261,923.1 2265.2,826.4 2269.4,825.1 2273.7,836.7 2277.9,848.2 2282.2,1017.8 2286.4,863.2 2290.6,708.6 2294.9,876.7 2299.1,1044.7 2303.3,710.2 2307.6,878.2 2311.8,861.8 2316.1,949.3 2320.3,1036.9 2324.5,793.2 2328.8,996 2333,744.8"/>
<text class="t" transform="translate(212.8 1193.2) scale(1.03 1)" text-anchor="middle">0</text>
<text class="t" transform="translate(424.7 1193.2) scale(1.03 1)" text-anchor="middle">50</text>
<text class="t" transform="translate(636.5 1193.2) scale(1.03 1)" text-anchor="middle">100</text>
<text class="t" transform="translate(848.4 1193.2) scale(1.03 1)" text-anchor="middle">150</text>
<text class="t" transform="translate(1060.2 1193.2) scale(1.03 1)" text-anchor="middle">200</text>
<text class="t" transform="translate(1272 1193.2) scale(1.03 1)" text-anchor="middle">250</text>
<text class="t" transform="translate(1483.9 1193.2) scale(1.03 1)" text-anchor="middle">300</text>
<text class="t" transform="translate(1695.8 1193.2) scale(1.03 1)" text-anchor="middle">350</text>
<text class="t" transform="translate(1907.6 1193.2) scale(1.03 1)" text-anchor="middle">400</text>
<text class="t" transform="translate(2119.5 1193.2) scale(1.03 1)" text-anchor="middle">450</text>
<text class="t" transform="translate(2331.3 1193.2) scale(1.03 1)" text-anchor="middle">500</text>
<text class="t" transform="translate(185.8 683.5) scale(1.03 1)" text-anchor="end">0.5</text>
<text class="t" transform="translate(185.8 903.5) scale(1.03 1)" text-anchor="end">0</text>
<text class="t" transform="translate(185.8 1123.5) scale(1.03 1)" text-anchor="end">-0.5</text>
</g>
<g>
<path class="ax" d="M426.4 1709.4v-22.2M426.4 1268.4v22.2M638.2 1709.4v-22.2M638.2 1268.4v22.2M850.1 1709.4v-22.2M850.1 1268.4v22.2M1061.9 1709.4v-22.2M1061.9 1268.4v22.2M1273.8 1709.4v-22.2M1273.8 1268.4v22.2M1485.6 1709.4v-22.2M1485.6 1268.4v22.2M1697.5 1709.4v-22.2M1697.5 1268.4v22.2M1909.3 1709.4v-22.2M1909.3 1268.4v22.2M2121.2 1709.4v-22.2M2121.2 1268.4v22.2M214.5 1342h4.5"/>
<rect class="ax" x="214.5" y="1268.4" width="2118.5" height="441"/>
<polyline class="b" style="stroke-width:4.4" points="218.7,1342 350.1,1342 354.3,1433.8 358.6,1342 583.1,1342 587.4,1454.4 591.6,1342 684.8,1342 689,1485.3 693.3,1342 1121.2,1342 1125.5,1355.2 1163.6,1355.2 1167.8,1342 1278,1342 1282.2,1413.3 1286.5,1342 1578.8,1342 1583.1,1352.5 1616.9,1352.5 1621.2,1342 1866.9,1342 1871.2,1357.4 1875.4,1342 1955.9,1342 1960.1,1529.4 1964.4,1342 2053.4,1342 2057.6,1346.8 2087.3,1346.8 2091.5,1342 2265.2,1342 2269.4,1374.3 2273.7,1342 2333,1342"/>
<text class="t" transform="translate(212.8 1806.2) scale(1.03 1)" text-anchor="middle">0</text>
<text class="t" transform="translate(424.7 1806.2) scale(1.03 1)" text-anchor="middle">50</text>
<text class="t" transform="translate(636.5 1806.2) scale(1.03 1)" text-anchor="middle">100</text>
<text class="t" transform="translate(848.4 1806.2) scale(1.03 1)" text-anchor="middle">150</text>
<text class="t" transform="translate(1060.2 1806.2) scale(1.03 1)" text-anchor="middle">200</text>
<text class="t" transform="translate(1272 1806.2) scale(1.03 1)" text-anchor="middle">250</text>
<text class="t" transform="translate(1483.9 1806.2) scale(1.03 1)" text-anchor="middle">300</text>
<text class="t" transform="translate(1695.8 1806.2) scale(1.03 1)" text-anchor="middle">350</text>
<text class="t" transform="translate(1907.6 1806.2) scale(1.03 1)" text-anchor="middle">400</text>
<text class="t" transform="translate(2119.5 1806.2) scale(1.03 1)" text-anchor="middle">450</text>
<text class="t" transform="translate(2331.3 1806.2) scale(1.03 1)" text-anchor="middle">500</text>
<text class="t" transform="translate(185.6 1369.5) scale(1.03 1)" text-anchor="end">1</text>
<text class="t" transform="translate(185.8 1736.9) scale(1.03 1)" text-anchor="end">0.5</text>
</g>
<text class="l" x="1271.5" y="1901.6" text-anchor="middle">Time, (weeks)</text>
<text class="l" transform="translate(20.2 828) scale(0.97 1)" style="font-size:68.5px">w</text>
<text class="l" x="53.2" y="863" style="font-size:51px">k</text>
<text class="l" transform="translate(27.8 1439.6) scale(0.965 1)" style="font-size:72px">A</text>
<text class="l" transform="translate(78 1474.6) scale(0.957 1)" style="font-size:53px">D</text>
<text class="m" transform="translate(10.0 175.8) scale(1.386 1)" font-size="118.1" stroke="#fff" stroke-width="2.6" paint-order="fill stroke" vector-effect="non-scaling-stroke">∑</text>
<text class="m" x="57.7" y="79.4" font-style="italic" font-size="58.0">t</text>
<text class="m" x="21.9" y="255.9" font-style="italic" font-size="53.0">k</text>
<text class="m" transform="translate(49.1 255.9) scale(1.365 1)" font-size="53.0">=</text>
<text class="m" transform="translate(89.8 255.9) scale(0.820 1)" font-size="55.0">1</text>
<text class="m" transform="translate(130.8 169.3) scale(1.081 1)" font-style="italic" font-size="69.0">w</text>
<text class="m" x="177.4" y="181.3" font-style="italic" font-size="54.0">k</text>
</svg>
</body>
</html>
